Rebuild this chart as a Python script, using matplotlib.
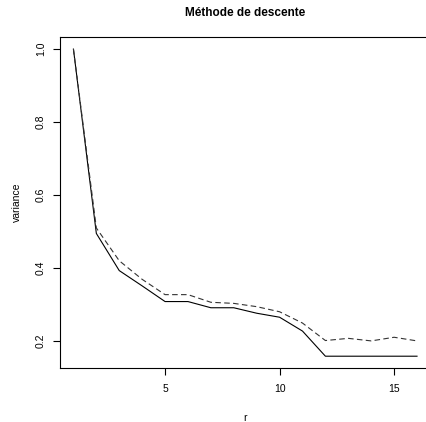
import matplotlib
matplotlib.use("Agg")
import matplotlib.pyplot as plt

plt.rcParams['font.family'] = ['Liberation Sans', 'DejaVu Sans']

r = list(range(1, 17))
var_solid = [1.0, 0.494, 0.392, 0.350, 0.307, 0.307, 0.290, 0.290,
             0.275, 0.264, 0.226, 0.157, 0.157, 0.157, 0.157, 0.157]
var_dashed = [1.0, 0.509, 0.419, 0.368, 0.326, 0.326, 0.305, 0.302,
              0.293, 0.279, 0.248, 0.200, 0.206, 0.199, 0.209, 0.199]

fig = plt.figure(figsize=(4.27, 4.22), dpi=100)
ax = fig.add_axes([0.1398, 0.1268, 0.869, 0.786])

ax.plot(r, var_solid, color='black', lw=0.8)
ax.plot(r, var_dashed, color='#333333', lw=0.8, linestyle=(0, (5, 3)))

ax.set_xlim(0.4, 16.6)
lo, hi = min(var_solid), max(var_solid)
ext = (hi - lo) * 0.04
ax.set_ylim(lo - ext, hi + ext)

ax.set_xticks([5, 10, 15])
ax.set_yticks([0.2, 0.4, 0.6, 0.8, 1.0])
ax.set_yticklabels(['0.2', '0.4', '0.6', '0.8', '1.0'], rotation=90, va='center')
ax.tick_params(axis='x', direction='out', length=5, width=0.8, labelsize=7.5, pad=6)
ax.tick_params(axis='y', direction='out', length=5, width=0.8, labelsize=7.5, pad=5)

for s in ax.spines.values():
    s.set_linewidth(0.8)

ax.set_xlabel('r', fontsize=7.5, labelpad=14)
ax.set_ylabel('variance', fontsize=7.5, labelpad=10)
ax.set_title('Méthode de descente', fontsize=8.5, fontweight='bold', pad=15)

fig.savefig('out.png', dpi=100)
